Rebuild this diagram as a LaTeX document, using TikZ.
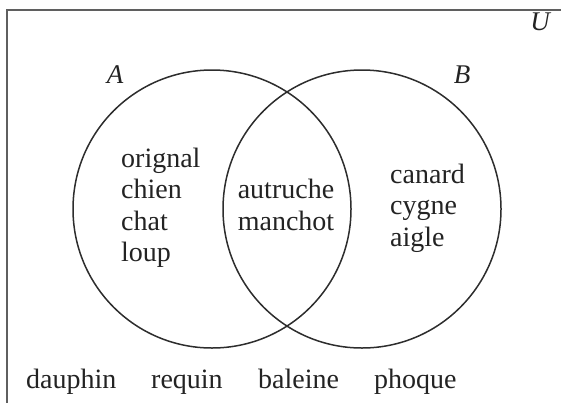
\documentclass[tikz,border=0pt]{standalone}
\usepackage{fontspec}
\setmainfont{Liberation Serif}
\usetikzlibrary{positioning}
\definecolor{colorline}  {RGB}{45 ,45 ,45 }
\definecolor{colorframe} {RGB}{95 ,95 ,95 }
\definecolor{colortext}  {RGB}{35 ,35 ,35 }

\begin{document}
\begin{tikzpicture}[
    x=1pt, y=-1pt,
    node distance = 2em,
    base/.style={text=colortext,font={\fontsize{28}{31.5}\selectfont},inner sep=0pt},
    txt/.style={base,align=left,anchor=west},
    setname/.style={base,font={\fontsize{27}{31.5}\selectfont\itshape}},
    setcircle/.style={circle,draw=colorline,line width=1.5pt,minimum size=278pt,inner sep=0pt},
]
    \useasboundingbox (0,0) rectangle (561,402);
    \clip (0,0) rectangle (561,402);

    % Universe
    \draw[colorframe,line width=2pt] (7,10) rectangle (580,420);
    \node[setname] (U) at (540,22) {U};

    % Sets
    \node[setcircle] (A) at (212,209) {};
    \node[setcircle] (B) at (362,209) {};
    \node[setname] (nameA) at (115,75) {A};
    \node[setname] (nameB) at (462,75) {B};

    % Elements
    \node[txt] (onlyA) at (121,208) {orignal\\chien\\chat\\loup};
    \node[base,align=center] (both) at (286,205) {autruche\\manchot};
    \node[txt] (onlyB) at (390,208) {canard\\cygne\\aigle};

    % Outside
    \node[base,anchor=base west] (dauphin) at (26,388)  {dauphin};
    \node[base,anchor=base west] (requin)  at (151,388) {requin};
    \node[base,anchor=base west] (baleine) at (258,388) {baleine};
    \node[base,anchor=base west] (phoque)  at (374,388) {phoque};

\end{tikzpicture}
\end{document}
